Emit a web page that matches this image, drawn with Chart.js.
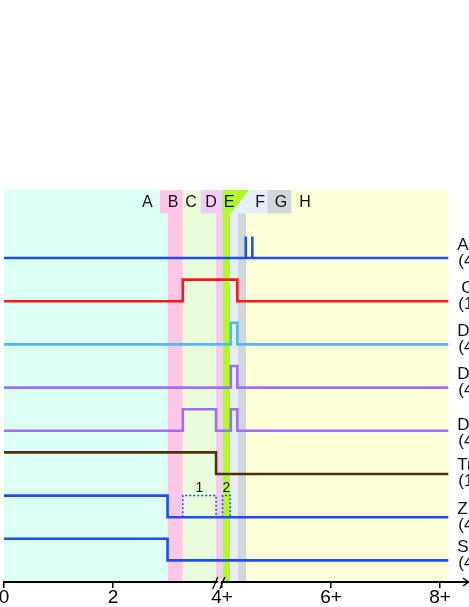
<!DOCTYPE html>
<html><head><meta charset="utf-8">
<script src="https://cdn.jsdelivr.net/npm/chart.js@4"></script>
<style>html,body{margin:0;padding:0;background:#fff;overflow:hidden}#wrap{width:469px;height:607px;position:relative}canvas{display:block}</style>
</head><body><div id="wrap"><canvas id="c" width="469" height="607"></canvas></div>
<script>
// ---------- DATA ----------
const xTickValues = [0, 2, 4, 6, 8];
const xTickLabels = ['0', '2', '4+', '6+', '8+'];
const xEnd = 8.15;            // where the traces stop
const xBreakAt = 3.94;        // axis break "//"

const regionNames   = ['A', 'B', 'C', 'D', 'E', 'F', 'G', 'H'];
const regionFrom    = [0, 3.0, 3.28, 3.89, 4.01, 4.15, 4.29, 4.44];
const regionTo      = [3.0, 3.28, 3.89, 4.01, 4.15, 4.29, 4.44, 8.15];
const regionTabFrom = [null, 2.86, 3.28, 3.61, 4.01, 4.15, 4.83, null];
const regionTabTo   = [null, 3.28, 3.61, 4.01, 4.15, 4.83, 5.27, null];
const regionLabelAt = [2.63, 3.1, 3.43, 3.8, 4.13, 4.7, 5.08, 5.52];
const eSlantTop = 4.49;

const signalNames = ['A', 'C', 'D', 'D', 'D', 'Tr', 'Z', 'S'];
const signalNotes = ['(4', '(1', '(4', '(4', '(4', '(1', '(4', '(4'];
const signalBase  = [7, 6, 5, 4, 3, 2, 1, 0];

const aTimes  = [0, 4.435, 4.435, 4.555, 4.555, 8.15];
const aLevels = [0, 1, 0, 1, 0, 0];
const cTimes  = [0, 3.28, 4.28, 8.15];
const cLevels = [0, 1, 0, 0];
const d1Times  = [0, 4.16, 4.28, 8.15];
const d1Levels = [0, 1, 0, 0];
const d2Times  = [0, 4.16, 4.28, 8.15];
const d2Levels = [0, 1, 0, 0];
const d3Times  = [0, 3.28, 3.89, 4.16, 4.28, 8.15];
const d3Levels = [0, 1, 0, 1, 0, 0];
const trTimes  = [0, 3.89, 8.15];
const trLevels = [1, 0, 0];
const zTimes   = [0, 3.0, 8.15];
const zLevels  = [1, 0, 0];
const sTimes   = [0, 3.0, 8.15];
const sLevels  = [1, 0, 0];

const zWindowFrom  = [3.28, 4.01];
const zWindowTo    = [3.89, 4.15];
const zWindowNames = ['1', '2'];

// ---------- STYLE ----------
const FONT = '"Liberation Sans", Arial, Helvetica, sans-serif';
const regionColors = ['#dcfff6', '#ffc6e6', '#e8fcda', '#f4cafb', '#b0fb26', '#e6eeff', '#d0d7d8', '#fcfed8'];
const amp = 0.5;
const tabBottom = 8.03;
const yMin = -0.5, yMax = 8.574;
const blue = '#1f4cf6', red = '#ff1515', lblue = '#4fb6ff', purple = '#a06cff', brown = '#4f300c';
const signalColors = [blue, red, lblue, purple, purple, brown, blue, blue];
const labelDy = [-13, -13, -13, -13, -5, -9, -8, -13];
const labelDx = [0, 4, 0, 0, 0, 0, 0, 0];

function steps(times, levels, base) {
  return times.map((t, i) => ({ x: t, y: base + amp * levels[i] }));
}
const allTimes = [aTimes, cTimes, d1Times, d2Times, d3Times, trTimes, zTimes, sTimes];
const allLevels = [aLevels, cLevels, d1Levels, d2Levels, d3Levels, trLevels, zLevels, sLevels];

const datasets = signalNames.map((n, i) => ({
  label: n + ' ' + signalNotes[i],
  data: steps(allTimes[i], allLevels[i], signalBase[i]),
  borderColor: signalColors[i],
  borderWidth: 2.6,
  stepped: true,
  pointRadius: 0,
  fill: false
}));
zWindowFrom.forEach((f, i) => {
  const b = signalBase[6];
  datasets.push({
    label: 'window ' + zWindowNames[i],
    data: [{ x: f, y: b }, { x: f, y: b + amp }, { x: zWindowTo[i], y: b + amp }, { x: zWindowTo[i], y: b }],
    borderColor: blue,
    borderWidth: 1.5,
    borderDash: [2, 2],
    pointRadius: 0,
    fill: false,
    tension: 0
  });
});

const decor = {
  id: 'decor',
  beforeDraw(chart) {
    const { ctx, chartArea: ca, scales: { x, y } } = chart;
    const X = v => x.getPixelForValue(v), Y = v => y.getPixelForValue(v);
    ctx.save();
    const top = ca.top, bot = ca.bottom, yt = Y(tabBottom);
    regionNames.forEach((n, i) => {
      ctx.fillStyle = regionColors[i];
      ctx.fillRect(X(regionFrom[i]), top, X(regionTo[i]) - X(regionFrom[i]), bot - top);
    });
    regionNames.forEach((n, i) => {
      if (regionTabFrom[i] == null) return;
      ctx.fillStyle = regionColors[i];
      ctx.fillRect(X(regionTabFrom[i]), top, X(regionTabTo[i]) - X(regionTabFrom[i]), yt - top);
    });
    // slanted E tab
    ctx.fillStyle = regionColors[4];
    ctx.beginPath();
    ctx.moveTo(X(regionTo[4]), yt + 1);
    ctx.lineTo(X(eSlantTop), top);
    ctx.lineTo(X(regionTo[4]), top);
    ctx.closePath();
    ctx.fill();
    // labels
    ctx.fillStyle = '#111';
    ctx.font = '16px ' + FONT;
    ctx.textAlign = 'center';
    ctx.textBaseline = 'middle';
    const ly = (top + yt) / 2 + 1;
    regionNames.forEach((n, i) => ctx.fillText(n, X(regionLabelAt[i]), ly));
    ctx.restore();
  },
  afterDraw(chart) {
    const { ctx, chartArea: ca, scales: { x, y } } = chart;
    const X = v => x.getPixelForValue(v), Y = v => y.getPixelForValue(v);
    ctx.save();
    // right labels
    ctx.fillStyle = '#111';
    ctx.font = '17px ' + FONT;
    ctx.textAlign = 'left';
    ctx.textBaseline = 'middle';
    const lx = X(xEnd) + 9;
    signalNames.forEach((n, i) => {
      const by = Y(signalBase[i]) + labelDy[i];
      ctx.fillText(n, lx + labelDx[i], by);
      ctx.fillText(signalNotes[i], lx + 1, by + 16);
    });
    // window labels
    ctx.font = '14px ' + FONT;
    ctx.textAlign = 'center';
    zWindowNames.forEach((n, i) => {
      ctx.fillText(n, (X(zWindowFrom[i]) + X(zWindowTo[i])) / 2, Y(signalBase[6] + amp) - 7);
    });
    // axis break
    const bx = X(xBreakAt), ay = ca.bottom;
    ctx.fillStyle = '#fff';
    ctx.beginPath();
    ctx.moveTo(bx - 3, ay + 3); ctx.lineTo(bx + 1, ay - 3); ctx.lineTo(bx + 4, ay - 3); ctx.lineTo(bx, ay + 3);
    ctx.closePath(); ctx.fill();
    ctx.strokeStyle = '#000';
    ctx.lineWidth = 1.3;
    ctx.beginPath();
    ctx.moveTo(bx - 6, ay + 7); ctx.lineTo(bx - 1, ay - 5);
    ctx.moveTo(bx + 1, ay + 7); ctx.lineTo(bx + 6, ay - 5);
    ctx.stroke();
    // arrow
    ctx.lineWidth = 1.5;
    ctx.beginPath();
    ctx.moveTo(ca.right - 6, ay - 4); ctx.lineTo(ca.right - 0.5, ay); ctx.lineTo(ca.right - 6, ay + 4);
    ctx.stroke();
    ctx.restore();
  }
};

new Chart(document.getElementById('c'), {
  type: 'line',
  data: { datasets },
  options: {
    responsive: false,
    animation: false,
    devicePixelRatio: 1,
    layout: { padding: { left: 4, top: 190, right: 0, bottom: 0 } },
    plugins: { legend: { display: false }, tooltip: { enabled: false } },
    scales: {
      x: {
        type: 'linear',
        min: 0,
        max: 8.53,
        afterFit: s => { s.paddingLeft = 0; s.paddingRight = 0; },
        afterBuildTicks: s => { s.ticks = xTickValues.map(v => ({ value: v })); },
        grid: { display: true, drawOnChartArea: false, drawTicks: true, tickLength: 6, color: '#000', lineWidth: 1.5 },
        border: { display: true, color: '#000', width: 2 },
        ticks: {
          autoSkip: false, maxRotation: 0, padding: 0, color: '#000',
          font: { size: 19, family: FONT, lineHeight: 1 },
          callback: (v, i) => xTickLabels[i]
        }
      },
      y: { type: 'linear', min: yMin, max: yMax, display: false }
    }
  },
  plugins: [decor]
});
</script>
</body></html>
